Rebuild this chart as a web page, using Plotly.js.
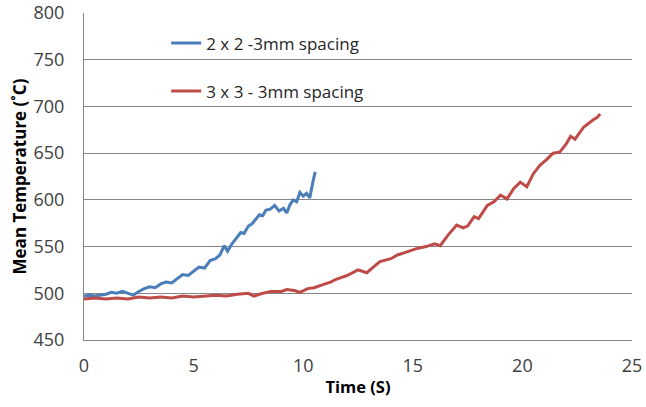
<!DOCTYPE html>
<html>
<head>
<meta charset="utf-8">
<script src="https://cdn.plot.ly/plotly-3.0.1.min.js"></script>
<style>html,body{margin:0;padding:0;background:#fff;}#chart{width:646px;height:407px;}</style>
</head>
<body>
<div id="chart"></div>
<script>
const seriesNames = ["2 x 2 -3mm spacing", "3 x 3 - 3mm spacing"];
const xTickVals = [0, 5, 10, 15, 20, 25];
const yTickVals = [450, 500, 550, 600, 650, 700, 750, 800];

const blueTime = [0,0.25,0.5,0.75,1,1.25,1.5,1.75,2,2.25,2.5,2.75,3,3.25,3.5,3.75,4,4.25,4.5,4.75,5,5.25,5.5,5.75,6,6.2,6.4,6.55,6.75,7,7.15,7.3,7.5,7.65,7.8,8,8.15,8.3,8.5,8.7,8.9,9.1,9.25,9.4,9.55,9.7,9.85,10,10.15,10.3,10.45,10.55];
const blueTemp = [497,498,497,498,499,501,500,502,500,498,502,505,507,506,510,512,511,516,520,519,524,528,527,535,537,541,551,545,553,561,565,564,572,574,578,584,583,589,590,594,588,591,586,595,600,598,608,604,607,602,620,630];

const redTime = [0,0.5,1,1.5,2,2.5,3,3.5,4,4.5,5,5.5,6,6.5,7,7.5,7.75,8,8.5,9,9.25,9.6,9.85,10.2,10.5,11,11.25,11.5,12,12.5,12.9,13.2,13.5,14,14.3,14.7,15.2,15.6,16,16.25,16.6,17,17.3,17.5,17.8,18,18.4,18.7,19,19.3,19.6,19.9,20.2,20.5,20.8,21.1,21.4,21.7,22,22.2,22.4,22.8,23,23.25,23.4,23.55];
const redTemp = [494,495,494,495,494,496,495,496,495,497,496,497,498,497,499,500,497,499,502,502,504,503,501,505,506,510,512,515,519,525,522,528,534,537,541,544,548,550,553,551,562,573,570,572,582,580,594,598,605,601,612,619,614,628,637,643,650,651,660,668,665,678,682,686,688,692];

const traces = [
  {x: blueTime, y: blueTemp, name: seriesNames[0], type: "scatter", mode: "lines",
   line: {color: "#4a7ebb", width: 3}, legendgroup: "a"},
  {x: redTime, y: redTemp, name: seriesNames[1], type: "scatter", mode: "lines",
   line: {color: "#be4b48", width: 3}, legendgroup: "b"}
];

const layout = {
  width: 646, height: 407,
  margin: {l: 84, r: 14, t: 13, b: 67},
  paper_bgcolor: "#fff", plot_bgcolor: "#fff",
  font: {family: "Open Sans, sans-serif", color: "#404040", size: 18},
  showlegend: true,
  legend: {x: 0.15, y: 0.962, xanchor: "left", yanchor: "top", bgcolor: "rgba(0,0,0,0)",
           font: {size: 17, color: "#262626"}, tracegroupgap: 23},
  xaxis: {range: [0, 25], tickvals: xTickVals, showgrid: false, zeroline: false,
          showline: true, linecolor: "#868686", linewidth: 1, ticks: "",
          ticklabelstandoff: 9, tickfont: {size: 18},
          title: {text: "<b>Time (S)</b>", font: {size: 16.5, color: "#000"}, standoff: 5}},
  yaxis: {range: [450, 800], tickvals: yTickVals, showgrid: true, gridcolor: "#868686",
          gridwidth: 1, zeroline: false, showline: true, linecolor: "#868686", linewidth: 1,
          ticks: "", ticklabelstandoff: 15, tickfont: {size: 18},
          title: {text: "<b>Mean Temperature (˚C)</b>", font: {size: 17, color: "#000"}, standoff: 2}}
};

Plotly.newPlot("chart", traces, layout, {displayModeBar: false, staticPlot: true});
</script>
</body>
</html>
